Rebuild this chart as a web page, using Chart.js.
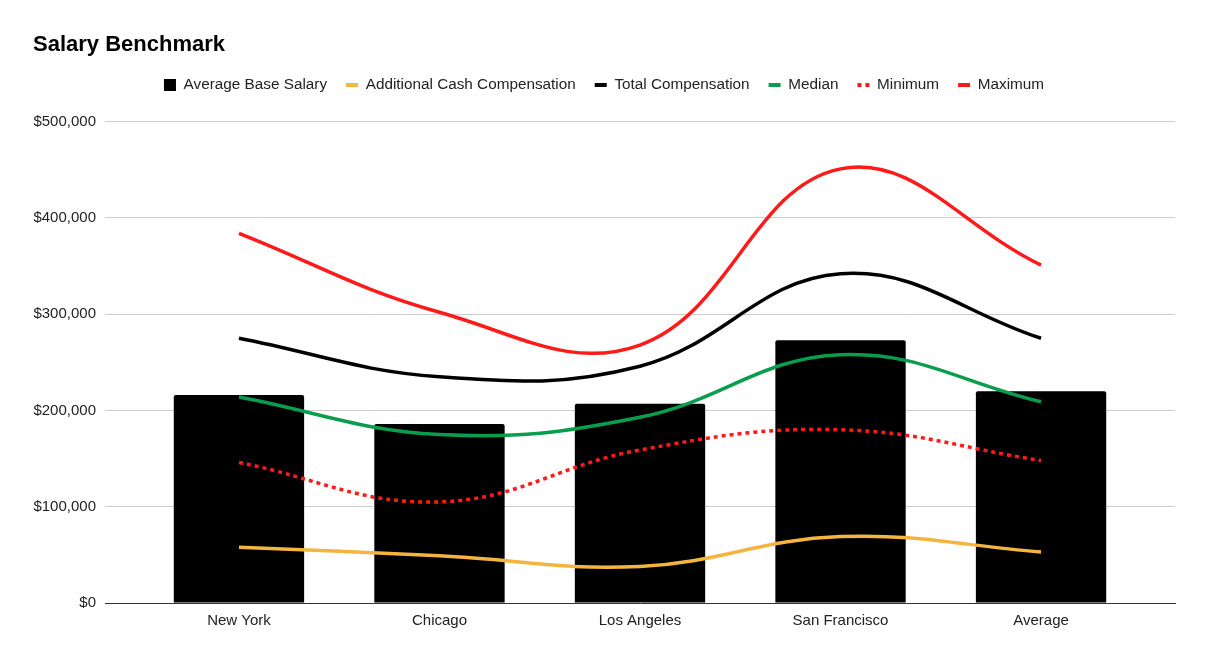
<!DOCTYPE html>
<html>
<head>
<meta charset="utf-8">
<script src="https://cdn.jsdelivr.net/npm/chart.js@4/dist/chart.umd.min.js"></script>
<style>
  html, body { margin: 0; padding: 0; background: #fff; }
  #wrap { width: 1207px; height: 658px; }
</style>
</head>
<body>
<div id="wrap"><canvas id="myChart"></canvas></div>
<script>
const cities = ['New York', 'Chicago', 'Los Angeles', 'San Francisco', 'Average']
const baseSalary = [216000, 186000, 207000, 273000, 220000]
const additionalCash = [58000, 49000, 38000, 69000, 53000]
const totalComp = [275000, 235000, 246000, 342000, 275000]
const median = [214000, 175000, 193000, 258000, 209000]
const minimum = [146000, 105000, 159000, 180000, 148000]
const maximum = [384000, 302000, 268000, 451000, 351000]
const yTicks = [0, 100000, 200000, 300000, 400000, 500000]

const font = 'Arial, "Liberation Sans", sans-serif'

function pts(arr) {
    return arr.map((v, i) => ({ x: i, y: v }))
}

function lineSet(label, data, color, dash) {
    return {
        type: 'line',
        label,
        data: pts(data),
        borderColor: color,
        backgroundColor: color,
        borderWidth: 3.5,
        borderDash: dash || [],
        borderCapStyle: 'butt',
        tension: 0.4,
        pointRadius: 0,
        pointHoverRadius: 0,
        pointStyle: 'line',
        fill: false,
        order: 0
    }
}

// push the plot down below the legend
const legendGap = {
    id: 'legendGap',
    beforeInit(chart) {
        const fit = chart.legend.fit
        chart.legend.fit = function () {
            fit.bind(chart.legend)()
            this.height += 19
        }
    }
}

const ctx = document.getElementById('myChart')

new Chart(ctx, {
    type: 'bar',
    data: {
        datasets: [
            {
                label: 'Average Base Salary',
                data: pts(baseSalary),
                backgroundColor: '#000',
                borderWidth: 0,
                borderRadius: { topLeft: 2, topRight: 2 },
                borderSkipped: 'bottom',
                barPercentage: 0.65,
                categoryPercentage: 1,
                pointStyle: 'rect',
                order: 1
            },
            lineSet('Additional Cash Compensation', additionalCash, '#f4b53f'),
            lineSet('Total Compensation', totalComp, '#000'),
            lineSet('Median', median, '#0b9d4e'),
            lineSet('Minimum', minimum, '#ff1a1a', [4, 4]),
            lineSet('Maximum', maximum, '#ff1a1a')
        ]
    },
    plugins: [legendGap],
    options: {
        responsive: true,
        maintainAspectRatio: false,
        animation: false,
        layout: { padding: { left: 33, right: 32, top: 0, bottom: 0 } },
        plugins: {
            title: {
                display: true,
                text: 'Salary Benchmark',
                align: 'start',
                color: '#000',
                font: { family: font, size: 22, weight: 'bold' },
                padding: { top: 32, bottom: 0 }
            },
            legend: {
                display: true,
                position: 'top',
                labels: {
                    usePointStyle: true,
                    pointStyleWidth: 12,
                    boxWidth: 12,
                    boxHeight: 12,
                    padding: 19,
                    color: '#222',
                    font: { family: font, size: 15.3 },
                    sort: (a, b) => a.datasetIndex - b.datasetIndex,
                    generateLabels: (chart) => {
                        let items = Chart.defaults.plugins.legend.labels.generateLabels(chart)
                        items.forEach(item => {
                            let ds = chart.data.datasets[item.datasetIndex]
                            if (ds.type === 'line') {
                                item.lineDash = ds.borderDash
                                item.lineWidth = 4
                                item.strokeStyle = ds.borderColor
                            }
                        })
                        return items
                    }
                }
            },
            tooltip: { enabled: false }
        },
        scales: {
            x: {
                type: 'linear',
                offset: false,
                min: -0.668,
                max: 4.668,
                grid: { display: false, offset: false },
                border: { display: true, color: '#333', width: 1 },
                afterBuildTicks: (scale) => {
                    scale.ticks = cities.map((c, i) => ({ value: i }))
                },
                afterFit: (scale) => { scale.height = 55 },
                ticks: {
                    padding: 1,
                    color: '#222',
                    font: { family: font, size: 15 },
                    autoSkip: false,
                    maxRotation: 0,
                    callback: (v) => cities[v]
                }
            },
            y: {
                min: 0,
                max: 500000,
                afterBuildTicks: (scale) => {
                    scale.ticks = yTicks.map(v => ({ value: v }))
                },
                afterFit: (scale) => { scale.width = 72 },
                grid: { color: '#cccccc', drawTicks: false },
                border: { display: false },
                ticks: {
                    padding: 9,
                    color: '#222',
                    font: { family: font, size: 15 },
                    callback: (v) => '$' + v.toLocaleString('en-US')
                }
            }
        }
    }
})
</script>
</body>
</html>
